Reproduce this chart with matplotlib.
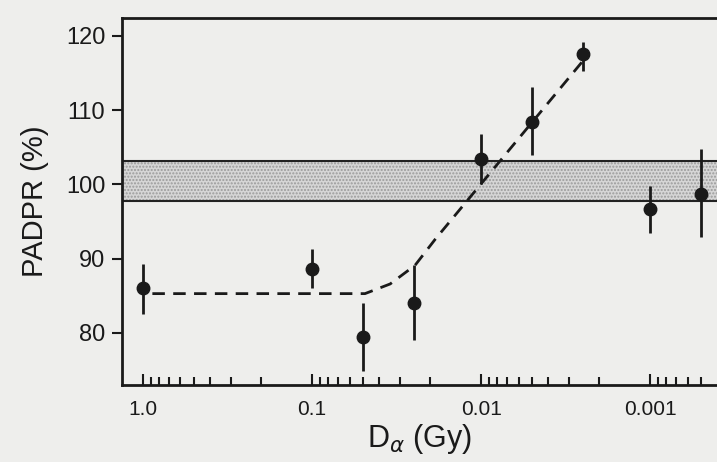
import matplotlib
matplotlib.use('Agg')
import matplotlib.pyplot as plt

# dose (Gy) and PADPR (%) with error bar limits
dose = [1.0, 0.1, 0.05, 0.025, 0.01, 0.005, 0.0025, 0.001, 0.0005]
padpr = [86.1, 88.6, 79.4, 84.0, 103.4, 108.4, 117.5, 96.7, 98.7]
err_hi = [89.3, 91.3, 84.1, 89.1, 106.8, 113.1, 119.2, 99.8, 104.7]
err_lo = [82.6, 86.1, 74.9, 79.0, 100.0, 104.0, 115.3, 93.4, 92.9]

# dashed fit curve
fit_dose = [0.88, 0.1, 0.0486, 0.0345, 0.0246, 0.0187, 0.0024]
fit_padpr = [85.3, 85.3, 85.3, 86.6, 89.1, 92.6, 117.1]

# control band
band_lo = 97.8
band_hi = 103.1

xticks = [1.0, 0.1, 0.01, 0.001]
xticklabels = ['1.0', '0.1', '0.01', '0.001']
yticks = [80, 90, 100, 110, 120]

bg = '#eeeeec'
plt.rcParams['font.family'] = ['Liberation Sans', 'DejaVu Sans']

fig = plt.figure(figsize=(7.17, 4.62), dpi=100, facecolor=bg)
ax = fig.add_axes([122/717, 77/462, 595/717, 367/462])
ax.set_facecolor(bg)

ax.set_xscale('log')
ax.set_xlim(1.331, 0.000402)
ax.set_ylim(73.0, 122.4)

ax.fill_between([10, 0.0001], band_lo, band_hi, facecolor='#d6d6d6',
                edgecolor='#9a9a9a', hatch='.....', linewidth=0, zorder=1)
ax.axhline(band_lo, color='#222222', lw=1.5, zorder=2)
ax.axhline(band_hi, color='#222222', lw=1.5, zorder=2)

ax.plot(fit_dose, fit_padpr, color='#1a1a1a', lw=2, dashes=(4.5, 3), zorder=3)

yerr = [[p - l for p, l in zip(padpr, err_lo)], [h - p for p, h in zip(padpr, err_hi)]]
ax.errorbar(dose, padpr, yerr=yerr, fmt='o', color='#1a1a1a', ms=9,
            elinewidth=2, capsize=0, zorder=4)

for s in ['left', 'top', 'bottom']:
    ax.spines[s].set_linewidth(2)
    ax.spines[s].set_color('#1a1a1a')
ax.spines['right'].set_visible(False)

ax.set_yticks(yticks)
ax.tick_params(axis='y', direction='out', length=7, width=1.5, pad=5,
               labelsize=17, colors='#1a1a1a')
ax.set_xticks(xticks)
ax.set_xticklabels(xticklabels)
ax.tick_params(axis='x', which='major', direction='in', length=8, width=1.5,
               pad=11, labelsize=15, colors='#1a1a1a')
ax.tick_params(axis='x', which='minor', direction='in', length=6, width=1.5,
               colors='#1a1a1a')
ax.tick_params(axis='x', which='both', top=False)

ax.set_ylabel('PADPR (%)', fontsize=21, labelpad=12, color='#1a1a1a')
ax.set_xlabel(r'D$_{\alpha}$ (Gy)', fontsize=22, labelpad=2, color='#1a1a1a')

fig.savefig('out.png', dpi=100, facecolor=bg)
